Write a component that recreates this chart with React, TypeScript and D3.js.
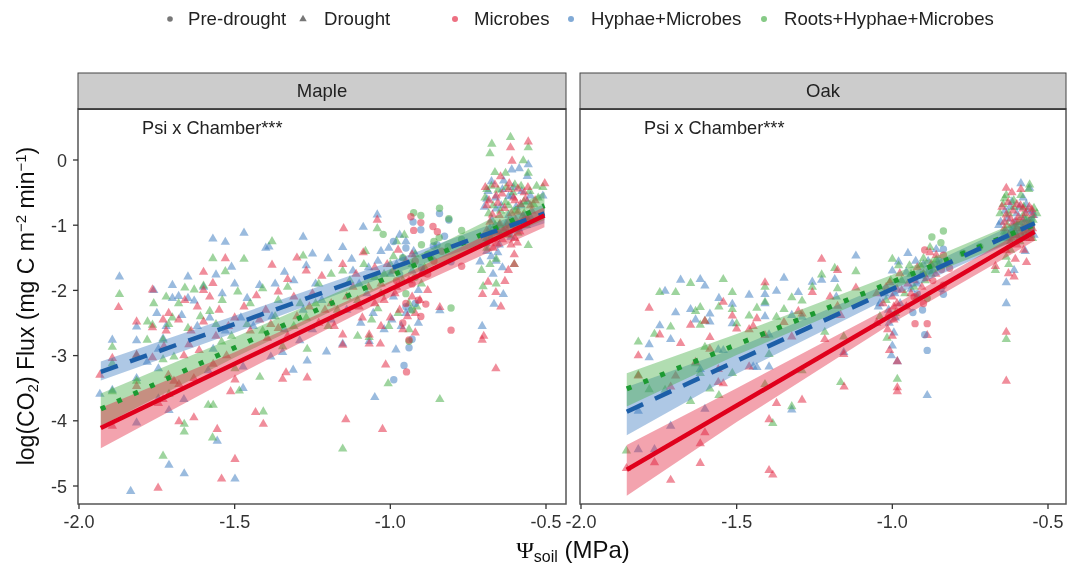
import * as d3 from 'd3';

type Pt = [number, number];

const shapeLegend = ['Pre-drought', 'Drought'];
const chamberLegend = ['Microbes', 'Hyphae+Microbes', 'Roots+Hyphae+Microbes'];
const xTicks = [-2, -1.5, -1, -0.5];
const yTicks = [0, -1, -2, -3, -4, -5];

// maple, drought (triangles)
const mapleRedTri: Pt[] = [
  [-1.873,-2.26],[-1.893,-3.04],[-1.933,-3.3],[-1.893,-4.08],[-1.815,-2.48],[-1.815,-2.99],[-1.815,-3.47],[-1.764,-1.99],[-1.764,-2.57],[-1.764,-3.03],
  [-1.73,-2.45],[-1.727,-2.86],[-1.712,-2.35],[-1.713,-3.3],[-1.695,-3.39],[-1.679,-3.44],[-1.745,-3.73],[-1.73,-3.67],[-1.679,-4.01],[-1.631,-3.95],
  [-1.746,-5.03],[-1.542,-4.89],[-1.499,-4.59],[-1.556,-4.13],[-1.614,-2.92],[-1.647,-2.83],[-1.663,-3.0],[-1.631,-3.35],[-1.569,-3.13],[-1.526,-3.0],
  [-1.499,-3.37],[-1.513,-3.55],[-1.433,-3.87],[-1.408,-4.05],[-1.346,-3.36],[-1.335,-3.26],[-1.267,-3.34],[-1.395,-2.73],[-1.384,-2.52],[-1.6,-1.72],
  [-1.6,-2.0],[-1.57,-1.89],[-1.53,-1.51],[-1.3,-1.5],[-1.38,-1.61],[-1.66,-2.15],[-1.62,-2.25],[-1.58,-2.1],[-1.55,-2.3],[-1.5,-2.42],
  [-1.47,-2.25],[-1.43,-2.08],[-1.4,-2.3],[-1.36,-2.02],[-1.33,-1.83],[-1.31,-2.1],[-1.27,-1.7],[-1.25,-2.05],[-1.22,-1.78],[-1.19,-2.2],
  [-1.15,-1.05],[-1.153,-1.6],[-1.153,-2.68],[-1.153,-2.84],[-1.143,-3.98],[-1.087,-1.42],[-1.12,-1.95],[-1.1,-2.25],[-1.068,-2.68],[-1.068,-2.82],
  [-1.042,-0.92],[-1.05,-1.65],[-1.03,-1.9],[-1.02,-2.15],[-1.032,-2.82],[-1.015,-3.14],[-1.025,-4.13],[-0.99,-1.7],[-0.98,-1.95],[-0.97,-2.3],
  [-0.95,-1.55],[-0.94,-1.85],[-0.93,-2.1],[-0.92,-2.35],[-0.9,-1.75],[-0.88,-2.0],[-0.841,-2.26],[-0.705,-2.76],[-0.7,-2.7],[-0.661,-3.2],
  [-0.557,0.28],[-0.614,0.19],[-0.609,-0.015],[-0.646,-0.255],[-0.504,-0.36],[-0.69,-0.7],[-0.66,-0.55],[-0.62,-0.45],[-0.6,-0.62],[-0.57,-0.5],
  [-0.55,-0.7],[-0.68,-0.95],[-0.65,-0.85],[-0.62,-0.95],[-0.59,-0.8],[-0.56,-0.9],[-0.66,-1.1],[-0.63,-1.05],[-0.6,-1.2],[-0.584,-1.1],
  [-0.592,-1.27],[-0.602,-1.45],[-0.602,-1.6],[-0.621,-1.69],[-0.686,-1.87],[-0.632,-1.86],[-0.704,-2.06],[-0.661,-2.03],[-0.645,-2.25],[-0.67,-1.35],
];
const mapleBlueTri: Pt[] = [
  [-1.57,-1.21],[-1.53,-1.26],[-1.47,-1.12],[-1.28,-1.18],[-1.4,-1.35],[-1.39,-1.33],[-1.25,-1.44],[-1.51,-1.64],[-1.87,-1.79],[-1.76,-2.0],
  [-1.65,-1.79],[-1.6,-1.95],[-1.56,-1.76],[-1.7,-1.92],[-1.7,-2.12],[-1.68,-2.09],[-1.65,-2.12],[-1.63,-2.16],[-1.893,-2.76],[-1.933,-3.59],
  [-1.893,-3.53],[-1.815,-2.56],[-1.815,-2.77],[-1.815,-3.35],[-1.815,-4.03],[-1.781,-3.1],[-1.745,-3.2],[-1.73,-2.74],[-1.745,-2.9],[-1.711,-3.84],
  [-1.745,-3.66],[-1.663,-3.67],[-1.711,-4.68],[-1.662,-4.81],[-1.834,-5.08],[-1.499,-4.89],[-1.556,-4.31],[-1.569,-2.9],[-1.585,-3.23],[-1.473,-3.5],
  [-1.473,-3.17],[-1.312,-3.22],[-1.267,-3.08],[-1.291,-2.77],[-1.384,-3.02],[-1.346,-2.95],[-1.54,-2.05],[-1.5,-1.9],[-1.46,-2.12],[-1.42,-1.92],
  [-1.37,-1.9],[-1.34,-1.72],[-1.31,-1.85],[-1.27,-1.62],[-1.24,-1.9],[-1.2,-1.51],[-1.205,-2.94],[-1.153,-1.34],[-1.124,-1.52],[-1.087,-1.03],
  [-1.042,-0.84],[-1.05,-3.64],[-1.153,-2.82],[-1.068,-2.78],[-1.1,-1.9],[-1.07,-1.65],[-1.03,-1.4],[-1.0,-1.75],[-0.99,-2.1],[-0.982,-2.91],
  [-0.97,-1.15],[-0.96,-1.5],[-0.95,-2.35],[-0.93,-1.7],[-0.91,-2.0],[-0.841,-2.31],[-0.705,-2.55],[-0.667,-2.21],[-0.637,-2.06],[-0.712,-1.56],
  [-0.675,-0.33],[-0.61,-0.15],[-0.586,-0.13],[-0.557,-0.07],[-0.56,-0.25],[-0.69,-0.6],[-0.66,-0.75],[-0.64,-0.45],[-0.61,-0.55],[-0.58,-0.7],
  [-0.55,-0.55],[-0.51,-0.55],[-0.68,-1.05],[-0.65,-1.3],[-0.62,-0.85],[-0.6,-1.0],[-0.66,-1.55],[-0.69,-1.4],[-0.67,-1.75],[-0.64,-1.65],
];
const mapleGreenTri: Pt[] = [
  [-1.38,-1.25],[-1.57,-1.51],[-1.47,-1.52],[-1.28,-1.47],[-1.53,-1.71],[-1.87,-2.06],[-1.76,-2.2],[-1.6,-1.93],[-1.66,-1.96],[-1.63,-1.99],
  [-1.893,-2.87],[-1.893,-3.12],[-1.893,-3.55],[-1.815,-3.0],[-1.815,-3.39],[-1.781,-2.76],[-1.764,-2.53],[-1.73,-2.76],[-1.73,-3.06],[-1.712,-2.52],
  [-1.711,-3.59],[-1.695,-3.02],[-1.662,-4.05],[-1.662,-4.17],[-1.73,-4.54],[-1.571,-4.26],[-1.585,-3.76],[-1.569,-3.76],[-1.542,-2.79],[-1.499,-3.2],
  [-1.485,-3.54],[-1.419,-3.33],[-1.408,-3.86],[-1.267,-2.9],[-1.346,-2.86],[-1.72,-2.1],[-1.68,-2.2],[-1.58,-2.32],[-1.54,-2.15],[-1.49,-2.02],
  [-1.45,-2.2],[-1.41,-1.97],[-1.36,-2.15],[-1.33,-1.95],[-1.29,-2.2],[-1.23,-1.9],[-1.19,-1.75],[-1.153,-1.7],[-1.105,-2.7],[-1.153,-4.43],
  [-1.08,-1.4],[-1.068,-2.72],[-1.042,-1.05],[-1.05,-1.8],[-1.03,-2.05],[-1.007,-3.43],[-1.0,-1.6],[-0.98,-1.25],[-0.96,-1.85],[-0.94,-2.2],
  [-0.92,-1.45],[-0.9,-1.9],[-0.841,-3.67],[-0.702,-1.94],[-0.707,-1.69],[-0.602,-1.6],[-0.557,-1.31],[-0.614,0.35],[-0.557,0.19],[-0.674,0.245],
  [-0.68,0.1],[-0.573,-0.01],[-0.664,-0.19],[-0.63,-0.2],[-0.557,-0.2],[-0.53,-0.4],[-0.69,-0.45],[-0.67,-0.7],[-0.63,-0.65],[-0.6,-0.38],
  [-0.57,-0.82],[-0.65,-1.0],[-0.62,-1.15],[-0.69,-1.2],[-0.68,-1.6],[-0.66,-1.9],[-0.51,-0.42],
];
// extra maple triangles for the dense clouds
const mapleRedCloud: Pt[] = [
  [-0.695,-0.42],[-0.683,-0.62],[-0.672,-0.84],[-0.664,-0.38],[-0.655,-0.66],[-0.648,-0.98],[-0.641,-0.52],[-0.633,-0.74],[-0.626,-1.14],[-0.618,-0.36],
  [-0.611,-0.82],[-0.604,-0.58],[-0.597,-0.92],[-0.59,-0.44],[-0.582,-0.68],[-0.574,-0.86],[-0.566,-0.6],[-0.558,-0.42],[-0.546,-0.78],[-0.535,-0.62],
  [-0.69,-1.08],[-0.677,-1.2],[-0.658,-1.28],[-0.64,-1.22],[-0.612,-1.3],[-1.14,-2.1],[-1.11,-1.75],[-1.09,-2.42],[-1.07,-1.95],[-1.05,-2.2],
  [-1.03,-2.55],[-1.01,-1.6],[-1.0,-2.42],[-0.985,-2.05],[-0.975,-1.38],[-0.96,-2.6],[-0.945,-2.4],[-0.93,-1.45],[-0.92,-2.65],[-0.905,-2.15],
  [-1.3,-2.4],[-1.26,-2.25],[-1.23,-2.5],[-1.21,-2.3],[-1.18,-2.55],[-1.72,-2.62],[-1.68,-2.45],[-1.64,-2.62],[-1.6,-2.48],[-1.56,-2.7],
  [-1.52,-2.55],[-1.45,-2.62],[-1.42,-2.45],[-1.36,-2.58],[-1.33,-2.7],
];
const mapleBlueCloud: Pt[] = [
  [-0.698,-0.72],[-0.686,-0.48],[-0.674,-0.92],[-0.662,-0.58],[-0.652,-1.1],[-0.644,-0.7],[-0.636,-0.32],[-0.628,-0.98],[-0.62,-0.56],[-0.612,-1.18],
  [-0.605,-0.42],[-0.596,-0.72],[-0.588,-1.05],[-0.578,-0.48],[-0.57,-0.9],[-0.56,-0.64],[-0.55,-0.88],[-0.692,-1.28],[-0.676,-1.48],[-0.655,-1.42],
  [-1.14,-2.3],[-1.12,-1.7],[-1.095,-2.5],[-1.075,-2.05],[-1.055,-2.35],[-1.04,-1.55],[-1.02,-2.6],[-1.005,-1.35],[-0.995,-2.45],[-0.98,-1.6],
  [-0.965,-2.55],[-0.95,-1.25],[-0.935,-2.3],[-0.925,-1.4],[-0.91,-2.5],[-0.895,-1.7],[-1.28,-2.3],[-1.25,-2.6],[-1.22,-2.15],[-1.19,-2.45],
  [-1.75,-2.35],[-1.72,-2.55],[-1.67,-2.38],[-1.62,-2.55],[-1.58,-2.42],[-1.53,-2.62],[-1.48,-2.42],[-1.44,-2.55],[-1.38,-2.4],[-1.34,-2.6],
];
const mapleGreenCloud: Pt[] = [
  [-0.696,-0.58],[-0.684,-0.82],[-0.675,-0.4],[-0.663,-1.0],[-0.654,-0.46],[-0.646,-0.78],[-0.637,-1.08],[-0.628,-0.42],[-0.62,-0.7],[-0.614,-1.0],
  [-0.606,-0.5],[-0.598,-0.78],[-0.59,-1.12],[-0.58,-0.4],[-0.571,-0.64],[-0.563,-1.0],[-0.552,-0.48],[-0.54,-0.68],[-0.525,-0.58],[-0.69,-1.35],
  [-0.678,-1.12],[-0.66,-1.52],[-1.13,-1.85],[-1.105,-2.15],[-1.085,-1.6],[-1.06,-2.45],[-1.04,-2.28],[-1.02,-1.75],[-1.005,-2.55],[-0.99,-1.48],
  [-0.975,-2.35],[-0.955,-1.15],[-0.94,-2.6],[-0.93,-1.6],[-0.915,-2.25],[-0.89,-1.65],[-1.27,-2.42],[-1.24,-2.2],[-1.2,-2.55],[-1.17,-2.3],
  [-1.78,-2.48],[-1.7,-2.42],[-1.65,-2.58],[-1.61,-2.4],[-1.56,-2.52],[-1.51,-2.7],[-1.46,-2.52],[-1.41,-2.62],[-1.37,-2.4],[-1.31,-2.55],
];
// maple, pre-drought (circles)
const mapleRedDot: Pt[] = [
  [-0.934,-0.87],[-0.902,-0.96],[-0.925,-1.08],[-0.863,-1.02],[-0.849,-1.1],[-0.835,-1.4],[-0.771,-1.63],[-0.902,-2.4],[-0.886,-2.21],[-0.805,-2.61],
  [-0.948,-3.25],[-0.94,-2.76],[-0.96,-2.5],[-0.95,-2.2],[-0.93,-1.9],[-0.91,-2.15],[-0.92,-1.55],[-0.88,-1.75],[-0.86,-1.55],[-0.98,-1.85],
];
const mapleBlueDot: Pt[] = [
  [-0.842,-0.82],[-0.927,-0.95],[-0.902,-1.07],[-0.812,-0.92],[-0.826,-1.17],[-0.862,-1.32],[-0.85,-1.3],[-0.805,-1.56],[-0.989,-3.37],[-0.956,-3.15],
  [-0.94,-2.88],[-0.93,-2.75],[-0.95,-2.25],[-0.92,-2.2],[-0.9,-1.65],[-0.97,-1.75],[-0.87,-1.5],[-0.99,-1.25],[-0.95,-1.35],
];
const mapleGreenDot: Pt[] = [
  [-0.925,-0.81],[-0.902,-0.85],[-0.842,-0.74],[-0.812,-0.9],[-0.843,-1.19],[-1.023,-1.14],[-0.771,-1.08],[-0.771,-1.22],[-0.814,-1.33],[-0.805,-2.27],
  [-0.94,-2.78],[-0.93,-2.3],[-0.95,-2.05],[-0.92,-1.8],[-0.88,-1.45],[-0.9,-1.3],[-0.96,-1.5],[-0.86,-1.25],
];

// oak, drought (triangles)
const oakRedTri: Pt[] = [
  [-1.747,-2.68],[-1.781,-2.27],[-1.68,-2.81],[-1.816,-3.0],[-1.602,-2.47],[-1.648,-2.53],[-1.586,-2.72],[-1.586,-2.9],[-1.632,-3.1],[-1.543,-2.18],
  [-1.816,-3.31],[-1.696,-3.31],[-1.559,-3.21],[-1.559,-3.41],[-1.543,-3.43],[-1.712,-3.48],[-1.602,-4.18],[-1.617,-4.35],[-1.764,-4.64],[-1.854,-4.73],
  [-1.617,-4.65],[-1.712,-4.91],[-1.396,-4.76],[-1.384,-4.83],[-1.396,-3.98],[-1.372,-3.73],[-1.29,-3.68],[-1.46,-3.17],[-1.323,-2.71],[-1.409,-2.69],
  [-1.46,-2.6],[-1.447,-2.55],[-1.5,-2.59],[-1.514,-2.39],[-1.409,-1.88],[-1.435,-2.43],[-1.348,-2.49],[-1.302,-2.32],[-1.29,-2.36],[-1.257,-2.03],
  [-1.227,-1.52],[-1.176,-1.69],[-1.176,-2.24],[-1.166,-2.38],[-1.117,-1.96],[-1.156,-2.98],[-1.155,-3.48],[-1.217,-2.75],[-1.2,-2.1],[-1.05,-2.05],
  [-1.02,-1.95],[-1.0,-2.1],[-1.01,-2.35],[-0.985,-2.2],[-0.976,-1.74],[-0.95,-1.9],[-0.93,-1.85],[-0.9,-1.75],[-0.879,-1.42],[-0.859,-1.46],
  [-1.009,-2.92],[-1.0,-2.7],[-0.995,-2.45],[-0.984,-3.09],[-0.984,-3.49],[-0.984,-3.55],[-0.888,-2.69],[-0.634,-2.64],[-0.634,-3.39],[-0.669,-1.63],
  [-0.634,-0.43],[-0.616,-0.5],[-0.587,-0.45],[-0.634,-0.84],[-0.6,-0.68],[-0.58,-0.75],[-0.56,-0.72],[-0.55,-0.85],[-0.62,-0.9],[-0.6,-0.95],
  [-0.58,-1.0],[-0.56,-0.95],[-0.64,-1.05],[-0.61,-1.15],[-0.59,-1.1],[-0.57,-1.2],[-0.55,-1.05],[-0.62,-1.25],[-0.6,-1.3],[-0.578,-1.38],
  [-0.569,-1.57],[-0.605,-1.52],[-0.609,-1.79],[-0.627,-1.74],[-0.634,-1.39],
];
const oakBlueTri: Pt[] = [
  [-1.68,-1.84],[-1.617,-1.83],[-1.602,-1.93],[-1.73,-2.01],[-1.696,-2.34],[-1.648,-2.29],[-1.586,-2.36],[-1.586,-2.48],[-1.632,-2.45],[-1.747,-2.54],
  [-1.712,-2.75],[-1.781,-2.83],[-1.781,-3.03],[-1.559,-2.91],[-1.543,-2.92],[-1.617,-3.21],[-1.816,-3.85],[-1.602,-3.82],[-1.712,-4.08],[-1.816,-4.44],
  [-1.764,-4.44],[-1.323,-3.83],[-1.447,-3.17],[-1.435,-3.18],[-1.396,-3.17],[-1.396,-2.68],[-1.514,-2.51],[-1.514,-2.21],[-1.557,-2.12],[-1.46,-2.07],
  [-1.409,-2.06],[-1.409,-2.2],[-1.409,-2.4],[-1.348,-1.81],[-1.372,-2.01],[-1.302,-2.03],[-1.323,-2.38],[-1.29,-2.41],[-1.257,-1.87],[-1.227,-1.84],
  [-1.185,-1.83],[-1.18,-2.1],[-1.117,-1.47],[-1.156,-2.95],[-0.95,-1.43],[-0.98,-1.56],[-1.0,-1.7],[-1.04,-2.2],[-1.01,-2.5],[-0.995,-2.65],
  [-1.0,-2.85],[-0.984,-3.09],[-1.003,-3.0],[-0.9,-1.6],[-0.859,-1.37],[-0.92,-1.9],[-0.888,-3.61],[-0.634,-1.88],[-0.634,-2.2],[-0.609,-1.69],
  [-0.587,-0.36],[-0.559,-0.43],[-0.616,-0.64],[-0.58,-0.58],[-0.658,-1.0],[-0.63,-0.9],[-0.6,-0.82],[-0.57,-0.68],[-0.55,-0.8],[-0.64,-1.15],
  [-0.61,-1.05],[-0.58,-1.2],[-0.56,-1.1],[-0.545,-1.15],[-0.573,-1.4],
];
const oakGreenTri: Pt[] = [
  [-1.648,-1.89],[-1.543,-1.83],[-1.747,-2.03],[-1.696,-2.03],[-1.632,-2.32],[-1.617,-2.26],[-1.602,-2.47],[-1.617,-2.53],[-1.712,-2.56],[-1.764,-2.67],
  [-1.816,-2.79],[-1.602,-2.87],[-1.632,-3.12],[-1.617,-3.27],[-1.816,-3.3],[-1.514,-3.27],[-1.781,-3.52],[-1.73,-3.53],[-1.586,-3.51],[-1.648,-3.7],
  [-1.557,-3.61],[-1.854,-4.46],[-1.384,-4.04],[-1.323,-3.78],[-1.409,-3.44],[-1.29,-3.23],[-1.396,-2.98],[-1.46,-2.39],[-1.5,-2.51],[-1.514,-2.29],
  [-1.557,-2.25],[-1.514,-2.03],[-1.409,-1.95],[-1.409,-2.18],[-1.435,-2.27],[-1.323,-2.11],[-1.29,-2.16],[-1.348,-2.29],[-1.372,-2.41],[-1.257,-1.95],
  [-1.227,-1.76],[-1.185,-1.66],[-1.176,-1.97],[-1.117,-1.71],[-1.156,-2.71],[-1.166,-3.41],[-1.217,-2.64],[-1.0,-1.52],[-0.98,-1.62],[-0.9,-1.51],
  [-0.879,-1.34],[-0.859,-1.53],[-0.94,-1.75],[-1.017,-2.73],[-0.984,-3.36],[-0.92,-2.1],[-0.634,-1.49],[-0.626,-1.6],[-0.669,-1.69],[-0.634,-2.75],
  [-0.559,-0.38],[-0.562,-0.45],[-0.587,-0.54],[-0.634,-0.54],[-0.64,-0.59],[-0.545,-0.74],[-0.61,-0.72],[-0.58,-0.85],[-0.6,-1.02],[-0.56,-1.0],
  [-0.63,-1.0],[-0.59,-1.25],[-0.55,-1.2],[-0.62,-1.38],
];
// extra oak triangles for the dense clouds
const oakRedCloud: Pt[] = [
  [-0.648,-0.72],[-0.628,-0.65],[-0.612,-0.78],[-0.596,-0.88],[-0.588,-0.7],[-0.572,-0.82],[-0.564,-1.08],[-0.552,-0.76],[-0.6,-1.05],[-0.614,-0.98],
  [-0.626,-1.15],[-0.582,-0.92],[-0.57,-0.98],[-0.594,-1.22],[-0.556,-1.2],[-0.64,-0.95],[-1.05,-2.5],[-1.03,-2.2],[-1.015,-2.6],[-0.995,-2.25],
  [-0.97,-2.0],[-0.955,-2.25],[-0.94,-2.05],[-0.92,-1.65],[-0.905,-1.95],[-0.89,-1.82],[-0.875,-1.6],[-0.86,-1.75],[-1.008,-1.88],[-0.985,-1.98],
];
const oakBlueCloud: Pt[] = [
  [-0.652,-0.95],[-0.638,-0.78],[-0.622,-0.72],[-0.606,-0.95],[-0.592,-0.72],[-0.576,-0.9],[-0.566,-0.78],[-0.554,-0.95],[-0.546,-0.85],[-0.6,-1.15],
  [-0.618,-1.08],[-0.632,-1.2],[-0.582,-1.05],[-1.045,-2.25],[-1.025,-2.05],[-1.012,-2.3],[-0.992,-2.05],[-0.99,-2.42],[-0.975,-2.2],[-0.955,-1.72],
  [-0.94,-1.98],[-0.925,-1.55],[-0.91,-1.78],[-0.885,-1.55],[-0.87,-1.7],
];
const oakGreenCloud: Pt[] = [
  [-0.654,-0.82],[-0.644,-0.68],[-0.626,-0.82],[-0.61,-0.62],[-0.594,-0.95],[-0.578,-0.72],[-0.568,-0.9],[-0.548,-0.92],[-0.536,-0.82],[-0.606,-1.12],
  [-0.62,-1.18],[-0.64,-1.1],[-0.576,-1.12],[-1.04,-2.4],[-1.02,-2.15],[-1.005,-1.85],[-0.99,-2.35],[-0.97,-1.85],[-0.96,-2.05],[-0.945,-1.62],
  [-0.93,-1.95],[-0.91,-1.62],[-0.895,-1.85],[-0.875,-1.75],[-0.85,-1.62],
];
// oak, pre-drought (circles)
const oakRedDot: Pt[] = [
  [-0.896,-1.38],[-0.836,-1.46],[-0.842,-1.68],[-0.816,-1.66],[-0.836,-1.92],[-0.927,-2.51],[-0.888,-2.51],[-0.93,-2.1],[-0.9,-2.2],[-0.87,-1.85],
];
const oakBlueDot: Pt[] = [
  [-0.836,-1.37],[-0.843,-1.97],[-0.836,-2.06],[-0.903,-2.3],[-0.934,-2.34],[-0.888,-2.92],[-0.896,-2.68],[-0.92,-2.05],[-0.88,-1.7],[-0.85,-1.55],
];
const oakGreenDot: Pt[] = [
  [-0.873,-1.18],[-0.836,-1.09],[-0.844,-1.27],[-0.888,-2.12],[-0.719,-1.33],[-0.773,-1.43],[-0.82,-1.55],[-0.9,-1.75],[-0.865,-1.6],
];

// ribbons as [x, lower, upper] and fit lines as [x, y]
const mapleRedBand = [[-1.93,-4.42,-3.8],[-1.5,-3.32,-2.95],[-1,-2.1,-1.86],[-0.505,-1.03,-0.72]];
const mapleBlueBand = [[-1.93,-3.38,-3.09],[-1.5,-2.65,-2.39],[-1,-1.76,-1.56],[-0.505,-0.97,-0.68]];
const mapleGreenBand = [[-1.93,-4.08,-3.58],[-1.5,-3.03,-2.72],[-1,-1.89,-1.67],[-0.505,-0.92,-0.49]];
const mapleRedFit: Pt[] = [[-1.93,-4.11],[-0.505,-0.85]];
const mapleBlueFit: Pt[] = [[-1.93,-3.25],[-0.505,-0.82]];
const mapleGreenFit: Pt[] = [[-1.93,-3.82],[-0.505,-0.7]];
const oakRedBand = [[-1.853,-5.15,-4.37],[-1.5,-4.02,-3.5],[-1,-2.5,-2.24],[-0.543,-1.24,-0.98]];
const oakBlueBand = [[-1.853,-4.22,-3.48],[-1.5,-3.28,-2.88],[-1,-2.09,-1.87],[-0.543,-1.1,-0.84]];
const oakGreenBand = [[-1.853,-3.78,-3.27],[-1.5,-2.99,-2.67],[-1,-1.98,-1.76],[-0.543,-1.12,-0.84]];
const oakRedFit: Pt[] = [[-1.853,-4.75],[-0.543,-1.1]];
const oakBlueFit: Pt[] = [[-1.853,-3.86],[-0.543,-0.97]];
const oakGreenFit: Pt[] = [[-1.853,-3.51],[-0.543,-0.99]];

const red = '#e3243f';
const blue = '#3d7cc0';
const green = '#45ad45';
const redLine = '#e0001b';
const blueLine = '#1f5ea8';
const greenLine = '#1f9a30';

const panels = [
  {
    name: 'Maple', left: 78, right: 566, x0: 79,
    tri: [mapleBlueTri.concat(mapleBlueCloud), mapleGreenTri.concat(mapleGreenCloud), mapleRedTri.concat(mapleRedCloud)],
    dot: [mapleBlueDot, mapleGreenDot, mapleRedDot],
    bands: [mapleBlueBand, mapleGreenBand, mapleRedBand],
    fits: [mapleGreenFit, mapleBlueFit, mapleRedFit],
  },
  {
    name: 'Oak', left: 580, right: 1066, x0: 581,
    tri: [oakBlueTri.concat(oakBlueCloud), oakGreenTri.concat(oakGreenCloud), oakRedTri.concat(oakRedCloud)],
    dot: [oakBlueDot, oakGreenDot, oakRedDot],
    bands: [oakBlueBand, oakGreenBand, oakRedBand],
    fits: [oakGreenFit, oakBlueFit, oakRedFit],
  },
];

const pointColors = [blue, green, red];
const fitStyles = [
  { stroke: greenLine, dash: '5 13', width: 5 },
  { stroke: blueLine, dash: '18 13', width: 4.5 },
  { stroke: redLine, dash: undefined, width: 4.5 },
];

const font = '"Liberation Sans", Arial, sans-serif';
const top = 109;
const bottom = 504;
const y = d3.scaleLinear().domain([0, -5]).range([160, 486]);
const triPath = d3.symbol(d3.symbolTriangle, 38)() as string;

function Panel({ p }) {
  const x = d3.scaleLinear().domain([-2, -0.5]).range([p.x0, p.x0 + 467]);
  const area = d3.area<number[]>().x((d) => x(d[0])).y0((d) => y(d[1])).y1((d) => y(d[2]));
  const line = d3.line<Pt>().x((d) => x(d[0])).y((d) => y(d[1]));
  return (
    <g>
      {/* points */}
      {p.tri.map((pts: Pt[], i: number) =>
        pts.map((d, j) => (
          <path key={`t${i}-${j}`} d={triPath} transform={`translate(${x(d[0])},${y(d[1])})`} fill={pointColors[i]} fillOpacity={0.52} />
        ))
      )}
      {p.dot.map((pts: Pt[], i: number) =>
        pts.map((d, j) => (
          <circle key={`c${i}-${j}`} cx={x(d[0])} cy={y(d[1])} r={3.7} fill={pointColors[i]} fillOpacity={0.52} />
        ))
      )}
      {/* ribbons */}
      {p.bands.map((b: number[][], i: number) => (
        <path key={`b${i}`} d={area(b) as string} fill={pointColors[i]} fillOpacity={0.42} />
      ))}
      {/* fit lines */}
      {p.fits.map((f: Pt[], i: number) => (
        <path key={`f${i}`} d={line(f) as string} fill="none" stroke={fitStyles[i].stroke} strokeWidth={fitStyles[i].width} strokeDasharray={fitStyles[i].dash} />
      ))}
      {/* frame and strip */}
      <rect x={p.left} y={top} width={p.right - p.left} height={bottom - top} fill="none" stroke="#555" strokeWidth={1.5} />
      <rect x={p.left} y={73} width={p.right - p.left} height={36} fill="#cccccc" stroke="#444" strokeWidth={1} />
      <line x1={p.left} x2={p.right} y1={109} y2={109} stroke="#333" strokeWidth={1.6} />
      <text x={(p.left + p.right) / 2} y={97} textAnchor="middle" fontSize={18.5} fill="#222">{p.name}</text>
      <text x={p.left + 64} y={134} fontSize={18.2} fill="#222">Psi x Chamber***</text>
      {/* x axis */}
      {xTicks.map((t) => (
        <g key={t}>
          <line x1={x(t)} x2={x(t)} y1={bottom} y2={bottom + 5} stroke="#333" strokeWidth={1.3} />
          <text x={x(t)} y={bottom + 24} textAnchor="middle" fontSize={18} fill="#333">{t.toFixed(1)}</text>
        </g>
      ))}
    </g>
  );
}

export default function App() {
  return (
    <svg width={1069} height={564} style={{ position: 'absolute', left: 0, top: 0, background: '#fff' }} fontFamily={font}>
      <defs>
        <filter id="soft" x="0" y="0" width="100%" height="100%">
          <feGaussianBlur stdDeviation={0.45} />
        </filter>
      </defs>
      <g filter="url(#soft)">
        <rect width={1069} height={564} fill="#fff" />
        {/* legend */}
        <g fontSize={18.6} fill="#222">
          <circle cx={170} cy={19} r={2.8} fill="#777" />
          <text x={188} y={25}>{shapeLegend[0]}</text>
          <path d={d3.symbol(d3.symbolTriangle, 24)() as string} transform="translate(303,19)" fill="#777" />
          <text x={324} y={25}>{shapeLegend[1]}</text>
          {[455, 571, 764].map((cx, i) => (
            <circle key={cx} cx={cx} cy={19} r={3} fill={[red, blue, green][i]} fillOpacity={0.65} />
          ))}
          <text x={474} y={25}>{chamberLegend[0]}</text>
          <text x={591} y={25}>{chamberLegend[1]}</text>
          <text x={784} y={25}>{chamberLegend[2]}</text>
        </g>

        {panels.map((p) => <Panel key={p.name} p={p} />)}

        {/* y axis */}
        {yTicks.map((t) => (
          <g key={t}>
            <line x1={73} x2={78} y1={y(t)} y2={y(t)} stroke="#333" strokeWidth={1.3} />
            <text x={67} y={y(t) + 6.5} textAnchor="end" fontSize={18} fill="#333">{t}</text>
          </g>
        ))}

        {/* axis titles */}
        <text transform="translate(34,306) rotate(-90)" textAnchor="middle" fontSize={23} fill="#111">
          log(CO<tspan fontSize={15} dy={4}>2</tspan><tspan dy={-4}>) Flux (mg C m</tspan>
          <tspan fontSize={15} dy={-8}>−2</tspan><tspan dy={8}> min</tspan>
          <tspan fontSize={15} dy={-8}>−1</tspan><tspan dy={8}>)</tspan>
        </text>
        <text x={573} y={558} textAnchor="middle" fontSize={24} fill="#111">
          <tspan fontFamily='"Liberation Serif", serif'>Ψ</tspan>
          <tspan fontSize={16} dy={4}>soil</tspan><tspan dy={-4}> (MPa)</tspan>
        </text>
      </g>
    </svg>
  );
}
